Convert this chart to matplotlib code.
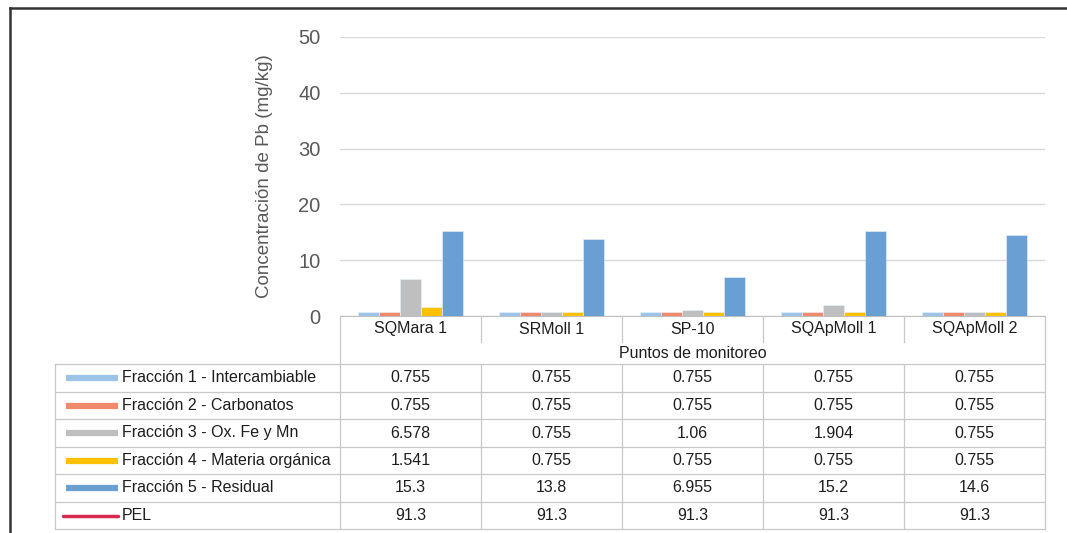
import numpy as np
import matplotlib.pyplot as plt
import matplotlib.transforms as mtransforms
from matplotlib.lines import Line2D

plt.rcParams['font.family'] = ['Liberation Sans', 'DejaVu Sans']

# data
puntos = ['SQMara 1', 'SRMoll 1', 'SP-10', 'SQApMoll 1', 'SQApMoll 2']
fraccion_1 = [0.755, 0.755, 0.755, 0.755, 0.755]
fraccion_2 = [0.755, 0.755, 0.755, 0.755, 0.755]
fraccion_3 = [6.578, 0.755, 1.06, 1.904, 0.755]
fraccion_4 = [1.541, 0.755, 0.755, 0.755, 0.755]
fraccion_5 = [15.3, 13.8, 6.955, 15.2, 14.6]
pel = [91.3, 91.3, 91.3, 91.3, 91.3]

series_names = ['Fracción 1 - Intercambiable', 'Fracción 2 - Carbonatos',
                'Fracción 3 - Ox. Fe y Mn', 'Fracción 4 - Materia orgánica',
                'Fracción 5 - Residual', 'PEL']
series_vals = [fraccion_1, fraccion_2, fraccion_3, fraccion_4, fraccion_5, pel]
colors = ['#9DC3E6', '#F0896C', '#BFBFBF', '#FFC000', '#6A9FD3', '#D8284E']
y_ticks = [0, 10, 20, 30, 40, 50]

W, H = 1067, 533
fig = plt.figure(figsize=(W / 100, H / 100), dpi=100)
txt_c = '#1E1E1E'
fs = 11.5


def fx(px):
    return px / W


def fy(py):
    return 1 - py / H


# plot area
ax = fig.add_axes([fx(340), fy(316), fx(1045) - fx(340), fy(37) - fy(316)])
xs = np.arange(len(puntos))
width = 0.15
for i in range(5):
    ax.bar(xs + (i - 2) * width, series_vals[i], width=width,
           color=colors[i], edgecolor='#EAF2FA', linewidth=0.4, zorder=3)
# PEL line (out of visible range)
ax.plot(xs, pel, color=colors[5], linewidth=2.5, zorder=4)

ax.set_xlim(-0.5, len(puntos) - 0.5)
ax.set_ylim(0, 50)
ax.set_yticks(y_ticks)
ax.set_yticklabels([str(y) for y in y_ticks], fontsize=14.5, color='#595959')
ax.tick_params(axis='y', length=0, pad=14)
ax.tick_params(axis='x', length=0, labelbottom=False)
ax.grid(axis='y', color='#D9D9D9', linewidth=1, zorder=0)
for s in ['top', 'right', 'left']:
    ax.spines[s].set_visible(False)
ax.spines['bottom'].set_color('#BFBFBF')
ax.set_ylabel('Concentración de Pb (mg/kg)', fontsize=13.5, color='#595959',
              labelpad=18)

# table below, columns follow the x scale of the plot
tr = mtransforms.blended_transform_factory(ax.transData, fig.transFigure)
line_c = '#C8C8C8'

# category row
for j, p in enumerate(puntos):
    fig.text(xs[j], fy(329), p, transform=tr, ha='center', va='center',
             fontsize=fs, color=txt_c)
for b in np.arange(len(puntos) + 1) - 0.5:
    top = 316
    bottom = 529 if b in (-0.5, len(puntos) - 0.5) else 342
    fig.add_artist(Line2D([b, b], [fy(top), fy(bottom)], transform=tr,
                          color=line_c, linewidth=0.9))
fig.text(np.mean(xs), fy(353), 'Puntos de monitoreo', transform=tr,
         ha='center', va='center', fontsize=fs, color=txt_c)

# table rows
row_edges = [364, 392, 419, 447, 474, 502, 529]
for r in row_edges:
    fig.add_artist(Line2D([fx(55), fx(1045)], [fy(r), fy(r)],
                          color=line_c, linewidth=0.9))
fig.add_artist(Line2D([fx(55), fx(55)], [fy(364), fy(529)],
                      color=line_c, linewidth=0.9))
for b in np.arange(1, len(puntos)) - 0.5:
    fig.add_artist(Line2D([b, b], [fy(364), fy(529)], transform=tr,
                          color=line_c, linewidth=0.9))

for k, (name, vals) in enumerate(zip(series_names, series_vals)):
    yc = fy((row_edges[k] + row_edges[k + 1]) / 2)
    if name == 'PEL':
        fig.add_artist(Line2D([fx(63), fx(118)], [yc, yc], color=colors[k],
                              linewidth=2.5, solid_capstyle='round'))
    else:
        fig.add_artist(Line2D([fx(66), fx(118)], [yc, yc], color=colors[k],
                              linewidth=4.5, solid_capstyle='butt'))
    fig.text(fx(122), yc, name, ha='left', va='center', fontsize=fs,
             color=txt_c)
    for j, v in enumerate(vals):
        fig.text(xs[j], yc, str(v), transform=tr, ha='center', va='center',
                 fontsize=fs, color=txt_c)

# outer frame
fig.add_artist(Line2D([fx(10), fx(10)], [fy(8), fy(533)], color='#333333',
                      linewidth=1.8))
fig.add_artist(Line2D([fx(10), fx(1067)], [fy(8), fy(8)], color='#333333',
                      linewidth=1.8))

plt.savefig('out.png', dpi=100)
